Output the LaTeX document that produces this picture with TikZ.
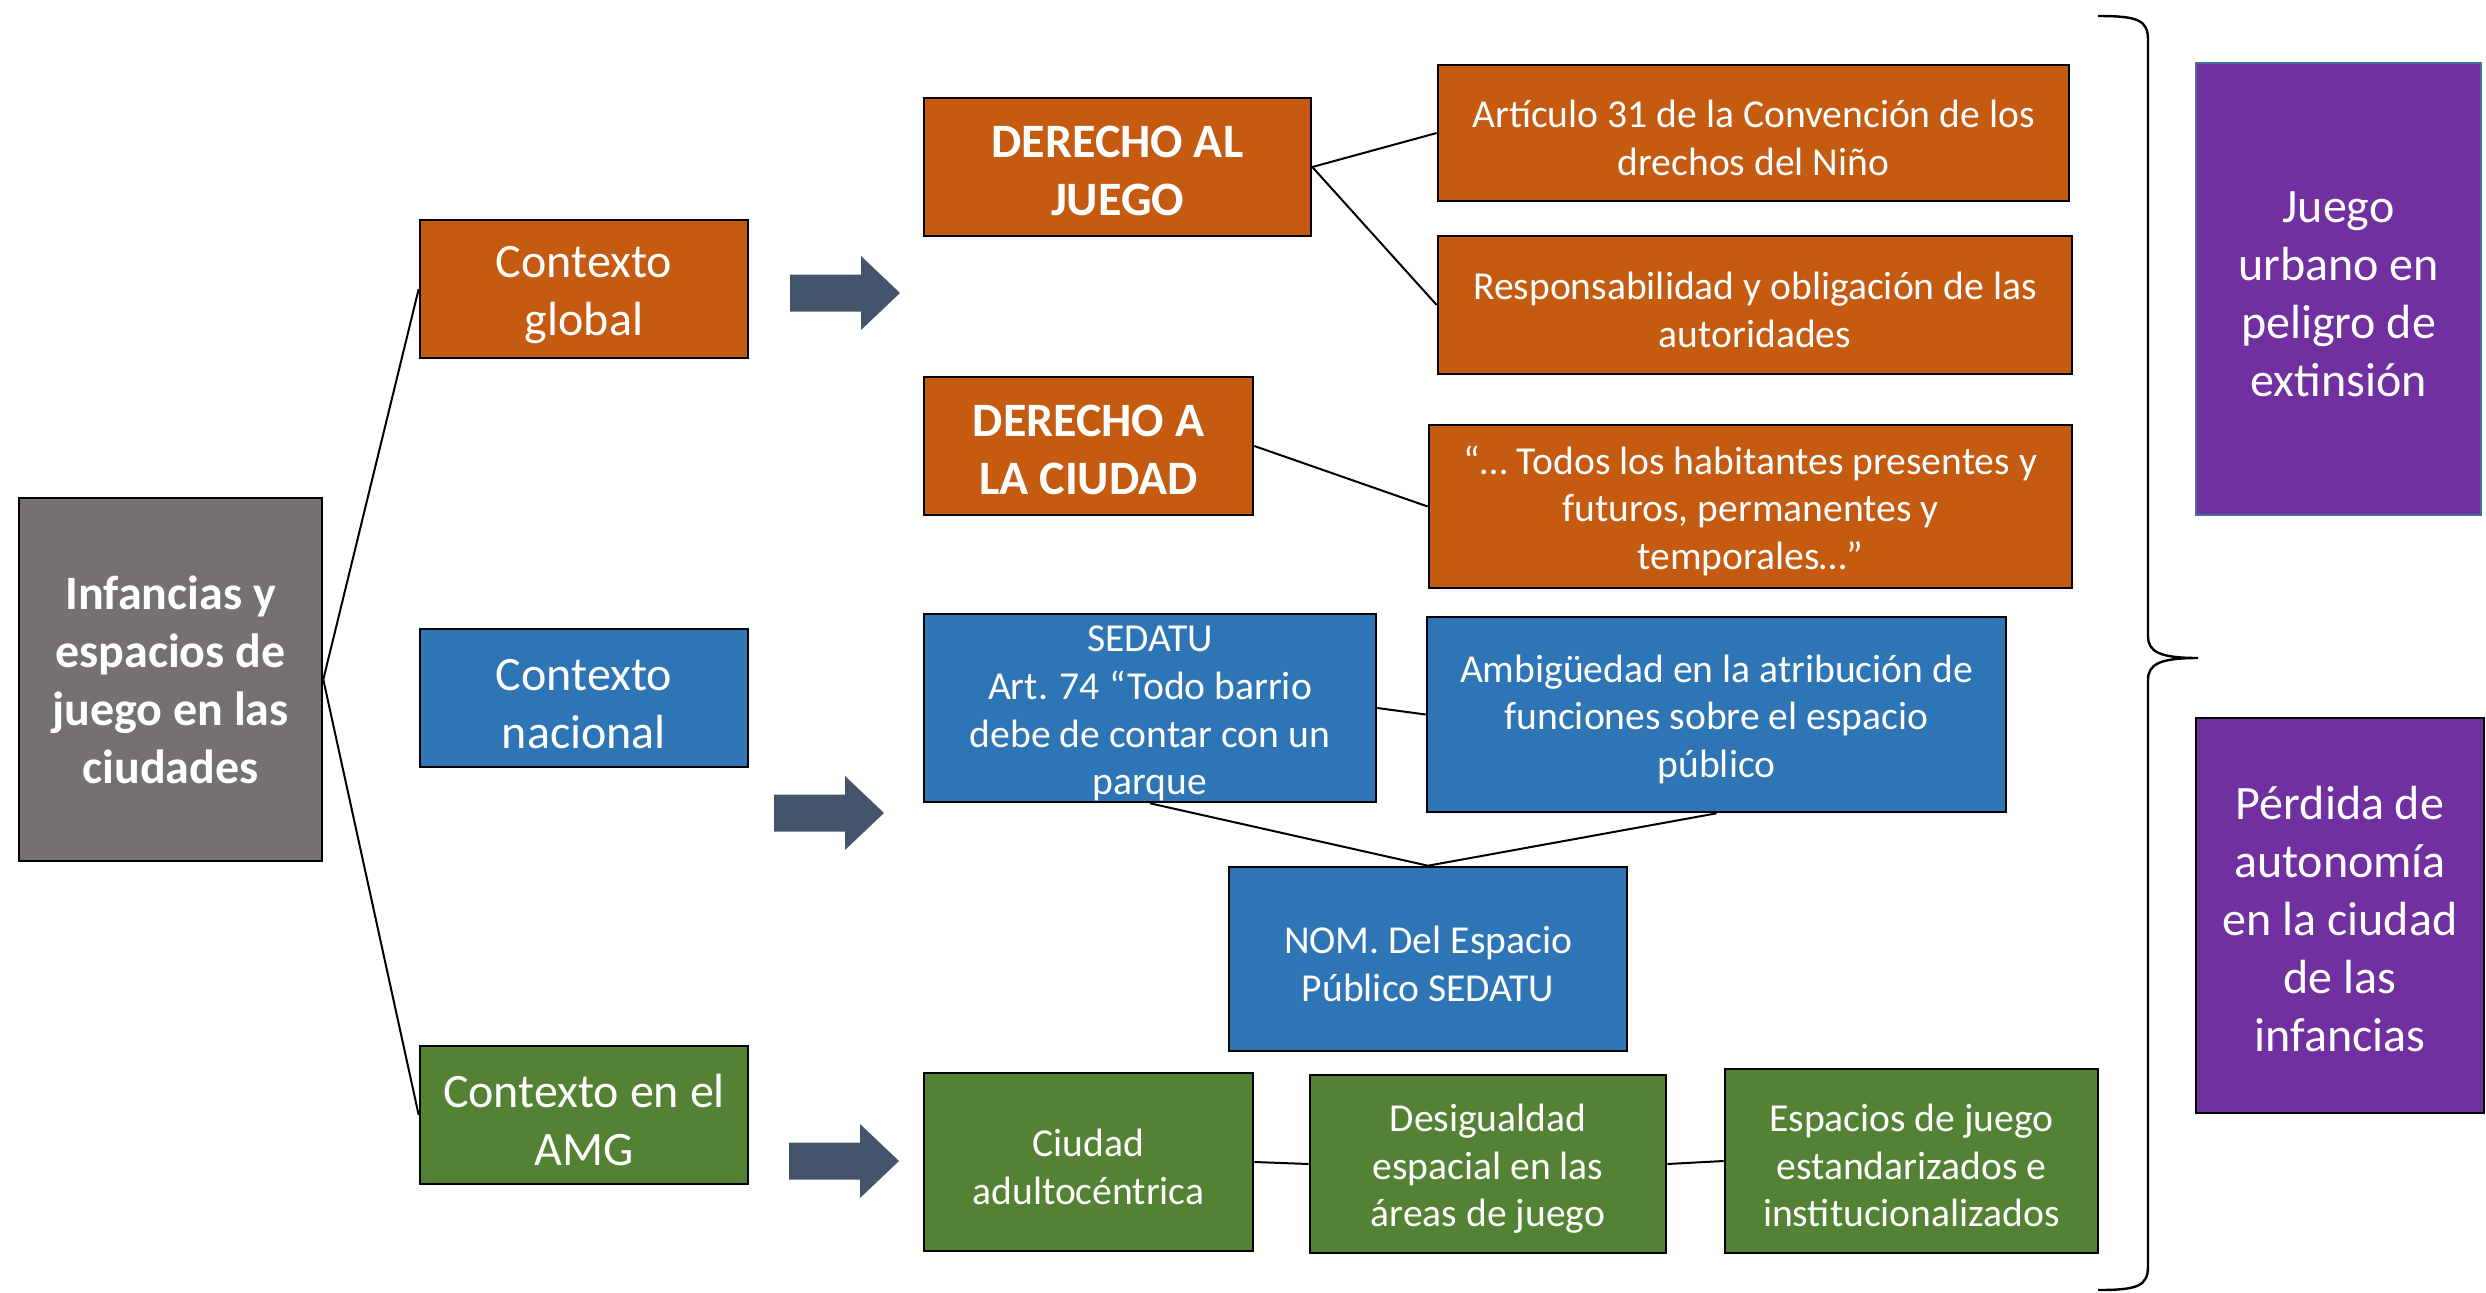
\documentclass[tikz,border=0pt]{standalone}
\usepackage{fontspec}
\setmainfont{Carlito}
\definecolor{corange}{HTML}{C55A11}
\definecolor{cblue}{HTML}{2E75B6}
\definecolor{cgreen}{HTML}{548235}
\definecolor{cgray}{HTML}{757171}
\definecolor{cpurple}{HTML}{7030A0}
\definecolor{carrow}{HTML}{44546A}
\definecolor{cpborder}{HTML}{41719C}
\newcommand\tup[1]{\rule{0pt}{#1em}}
\tikzset{
  wh/.style 2 args={minimum width=#1*0.5pt, minimum height=#2*0.5pt},
  box/.style={draw=black, line width=1.3pt, inner sep=0pt, align=center, text=white},
  big/.style={font=\fontsize{24}{29}\selectfont},
  small/.style={font=\fontsize{19.8}{23.8}\selectfont},
  conn/.style={draw=black, line width=1pt},
  blockarrow/.style={fill=carrow, draw=none}
}
\begin{document}
\begin{tikzpicture}[x=0.5pt,y=-0.5pt]
\useasboundingbox (0,0) rectangle (2486,1292);
% main nodes
\node[box, fill=cgray, wh={303}{363}, font=\fontsize{24}{29}\selectfont\bfseries] (G) at (170.5,679.5) {Infancias y\\espacios de\\juego en las\\ciudades};
\node[box, big, fill=corange, wh={328}{138}] (CG) at (584,289) {\tup{0.92}Contexto\\global};
\node[box, big, fill=cblue, wh={328}{138}] (CN) at (584,698) {\tup{0.92}Contexto\\nacional};
\node[box, big, fill=cgreen, wh={328}{138}] (CA) at (584,1115) {\tup{0.92}Contexto en el\\AMG};
% global
\node[box, fill=corange, wh={387}{138}, font=\fontsize{24}{29}\selectfont\bfseries] (DJ) at (1117.5,167) {\tup{0.8}DERECHO AL\\JUEGO};
\node[box, small, fill=corange, wh={631}{136}] (A31) at (1753.5,133) {\tup{0.93}Artículo 31 de la Convención de los\\drechos del Niño};
\node[box, small, fill=corange, wh={634}{138}] (RO) at (1755,305) {\tup{0.93}Responsabilidad y obligación de las\\autoridades};
\node[box, fill=corange, wh={329}{138}, font=\fontsize{24}{29}\selectfont\bfseries] (DC) at (1088.5,446) {\tup{0.8}DERECHO A\\LA CIUDAD};
\node[box, small, fill=corange, wh={643}{163}] (TH) at (1750.5,506.5) {\tup{0.93}“… Todos los habitantes presentes y\\futuros, permanentes y\\temporales…”};
% nacional
\node[box, small, fill=cblue, wh={452}{188}] (SE) at (1150,708) {\tup{0.93}SEDATU\\Art. 74 “Todo barrio\\debe de contar con un\\parque};
\node[box, small, fill=cblue, wh={579}{195}] (AM) at (1716.5,714.5) {\tup{0.93}Ambigüedad en la atribución de\\funciones sobre el espacio\\público};
\node[box, small, fill=cblue, wh={398}{184}] (NOM) at (1428,959) {\tup{0.93}NOM. Del Espacio\\Público SEDATU};
% AMG
\node[box, small, fill=cgreen, wh={329}{178}] (CiA) at (1088.5,1162) {\tup{0.93}Ciudad\\adultocéntrica};
\node[box, small, fill=cgreen, wh={356}{178}] (DE) at (1488,1164) {\tup{0.93}Desigualdad\\espacial en las\\áreas de juego};
\node[box, small, fill=cgreen, wh={373}{184}] (ES) at (1911.5,1161) {\tup{0.93}Espacios de juego\\estandarizados e\\institucionalizados};
% purple
\node[box, big, fill=cpurple, draw=cpborder, line width=1pt, wh={285}{452}] (P1) at (2338.5,289) {\tup{0.86}Juego\\urbano en\\peligro de\\extinsión};
\node[box, big, fill=cpurple, wh={288}{395}] (P2) at (2340,915.5) {\tup{0.86}Pérdida de\\autonomía\\en la ciudad\\de las\\infancias};
% connectors
\draw[conn] (G.east) -- (CG.west);
\draw[conn] (G.east) -- (CA.west);
\draw[conn] (DJ.east) -- (A31.west);
\draw[conn] (DJ.east) -- (RO.west);
\draw[conn] (DC.east) -- (TH.west);
\draw[conn] (SE.east) -- (AM.west);
\draw[conn] (SE.south) -- (NOM.north);
\draw[conn] (AM.south) -- (NOM.north);
\draw[conn] (CiA.east) -- (DE.west);
\draw[conn] (DE.east) -- (ES.west);
% block arrows
\fill[blockarrow] (790,274.5) -- (861,274.5) -- (861,256) -- (900,293) -- (861,330) -- (861,311.5) -- (790,311.5) -- cycle;
\fill[blockarrow] (774,794.5) -- (845,794.5) -- (845,776) -- (884,813) -- (845,850) -- (845,831.5) -- (774,831.5) -- cycle;
\fill[blockarrow] (789,1142.5) -- (860,1142.5) -- (860,1124) -- (899,1161) -- (860,1198) -- (860,1179.5) -- (789,1179.5) -- cycle;
% brace
\coordinate (BT) at (2098,16);
\coordinate (BB) at (2098,1290);
\coordinate (BTip) at (2198,658);
\draw[line width=1.2pt] (BT) .. controls (2138,16) and (2148,20) .. (2148,40) -- (2148,636)
  .. controls (2148,652) and (2160,658) .. (BTip)
  .. controls (2160,658) and (2148,664) .. (2148,680) -- (2148,1266)
  .. controls (2148,1286) and (2138,1290) .. (BB);
\end{tikzpicture}
\end{document}
